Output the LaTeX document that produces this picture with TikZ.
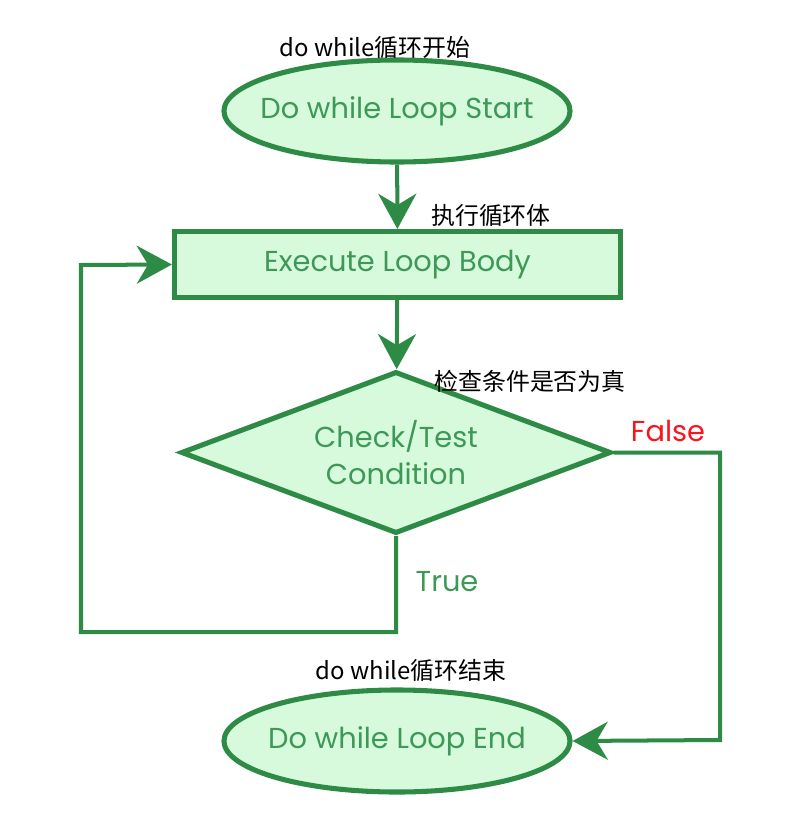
\documentclass[tikz,border=0pt]{standalone}
\usepackage{fontspec}
\setmainfont{Poppins}
\newfontfamily\cjk{Noto Sans CJK SC}
\usepackage{xcolor}
\usetikzlibrary{shapes,arrows.meta,positioning,calc}

\definecolor{flowline}{RGB}{46,139,70}
\definecolor{flowfill}{RGB}{214,250,219}
\definecolor{flowtext}{RGB}{62,152,88}
\definecolor{falsered}{RGB}{250,20,30}

\tikzset{
    box/.style={draw=flowline, fill=flowfill, line width=3.6pt, text=flowtext,
        font=\fontsize{20.5}{26.5}\selectfont, inner sep=0pt, align=center},
    terminal/.style={box, ellipse, inner xsep=-16pt, minimum width=8.65cm, minimum height=2.55cm},
    process/.style={box, rectangle, minimum width=11.15cm, minimum height=1.65cm},
    decision/.style={box, diamond, aspect=2.6, minimum width=10.75cm, minimum height=4.05cm},
    flow/.style={draw=flowline, line width=2.85pt,
        -{Stealth[length=25pt, width=27pt, inset=8pt]}},
    note/.style={font=\cjk\fontsize{17}{20}\selectfont, inner sep=0pt},
    branch/.style={font=\fontsize{20.5}{24}\selectfont, inner sep=0pt}
}

\begin{document}
\begin{tikzpicture}[x=0.025cm, y=-0.025cm]
    \useasboundingbox (0,0) rectangle (796,840);

    % Nodes
    \node[terminal] (start) at (397,111) {Do while Loop Start};
    \node[process]  (body)  at (397.5,264.5) {Execute Loop Body};
    \node[decision] (cond)  at (396,452.5) {Check/Test\\Condition};
    \node[terminal] (stop)  at (397,741) {Do while Loop End};

    % Chinese notes
    \node[note] (n1) at (375,48)  {do while循环开始};
    \node[note] (n2) at (491,215) {执行循环体};
    \node[note] (n3) at (530,381) {检查条件是否为真};
    \node[note] (n4) at (411,670) {do while循环结束};

    % Branch labels
    \node[branch, text=falsered] (lfalse) at (668,431) {False};
    \node[branch, text=flowtext] (ltrue)  at (447,582) {True};

    % Connectors
    \coordinate (fa) at (720,452.5);
    \coordinate (fb) at (720,740);
    \coordinate (ta) at (396,632);
    \coordinate (tb) at (81,632);
    \coordinate (tc) at (81,265);

    \draw[flow] (start) -- (body);
    \draw[flow] (body) -- (cond);
    \draw[flow, line join=miter] (cond.east) -- (fa) -- (fb) -- (stop.east);
    \draw[flow, line join=miter] (cond.south) -- (ta) -- (tb) -- (tc) -- (body.west);
\end{tikzpicture}
\end{document}
